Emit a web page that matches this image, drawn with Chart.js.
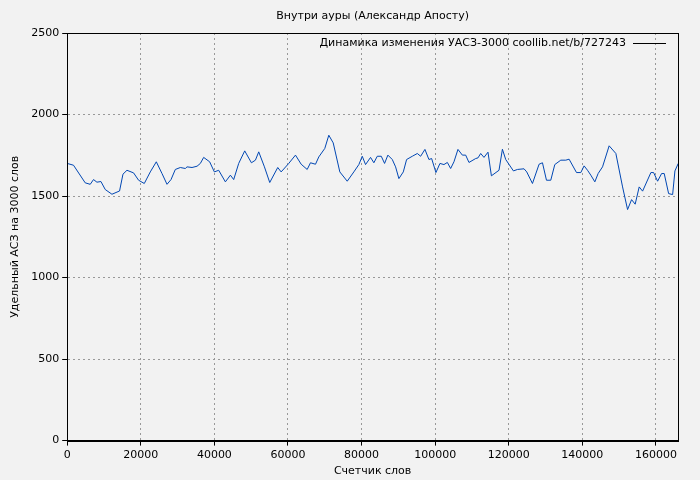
<!DOCTYPE html>
<html><head><meta charset="utf-8">
<script src="https://cdn.jsdelivr.net/npm/chart.js@4/dist/chart.umd.min.js"></script>
<style>html,body{margin:0;background:#f2f2f2}</style>
</head><body><canvas id="c" width="700" height="480"></canvas>
<script>
let words = [0,1714,4898,6258,7156,8081,9170,10340,12163,14231,15156,16244,18040,19401,20952,22584,24217,25768,27128,28217,29387,30747,32108,32570,33931,35291,36189,37087,38720,39999,41169,42992,44352,45250,46611,48243,50066,51155,52053,53604,55046,57223,58148,60216,62039,63590,65222,66120,67481,68379,70011,71100,72297,74093,76106,77902,79263,80188,81086,82446,83344,84269,85358,86256,87154,88351,89249,90147,91344,92242,93793,95153,96051,97221,98310,99044,100214,101303,102391,103316,104214,105112,106200,107398,108296,109194,111017,111643,112377,113275,114363,115289,117357,118282,119180,121275,122363,124159,124894,126445,128241,129166,130254,131424,132513,134145,135506,136404,138418,139588,140486,141411,142309,143397,144295,145493,147289,149112,150935,152295,153384,154363,155452,156377,158635,159369,160457,161546,162253,163451,164540,165166,166064]
let uasz = [1700,1689,1581,1572,1601,1585,1589,1540,1511,1531,1634,1658,1642,1597,1577,1648,1710,1638,1572,1601,1663,1675,1669,1679,1675,1683,1700,1737,1710,1648,1658,1587,1628,1601,1700,1777,1704,1720,1771,1679,1583,1675,1648,1700,1751,1695,1663,1704,1695,1740,1792,1873,1826,1648,1591,1648,1693,1744,1693,1737,1704,1744,1744,1700,1751,1724,1679,1607,1648,1724,1744,1761,1744,1786,1724,1730,1644,1700,1693,1706,1669,1710,1786,1751,1751,1706,1730,1734,1761,1737,1769,1624,1658,1787,1724,1654,1663,1667,1648,1577,1695,1704,1597,1597,1693,1720,1720,1726,1644,1644,1685,1658,1628,1587,1638,1679,1808,1761,1556,1417,1478,1450,1556,1530,1644,1644,1591,1638,1638,1515,1509,1654,1700]
let xTicks = [0,20000,40000,60000,80000,100000,120000,140000,160000]
let yTicks = [0,500,1000,1500,2000,2500]
let titleText = 'Внутри ауры (Александр Апосту)'
let legendText = 'Динамика изменения УАСЗ-3000 coollib.net/b/727243'

let pts = words.map((w,i) => ({x:w, y:uasz[i]}))
let font = {family:'DejaVu Sans', size:11, weight:'normal'}
let grid = {color:'#999', lineWidth:1, drawTicks:true, tickLength:5, tickColor:'#000'}

let framePlugin = {
  id:'frame',
  afterDraw(ch){
    let a = ch.chartArea, ctx = ch.ctx
    ctx.save()
    ctx.strokeStyle = '#000'; ctx.lineWidth = 1
    ctx.strokeRect(Math.round(a.left)+0.5, Math.round(a.top)+0.5, Math.round(a.right-a.left), Math.round(a.bottom-a.top))
    ctx.font = '11px "DejaVu Sans"'
    ctx.fillStyle = '#000'
    ctx.textBaseline = 'middle'
    ctx.textAlign = 'center'
    ctx.fillText(titleText, (a.left + a.right) / 2, 16)
    ctx.textAlign = 'right'
    ctx.fillText(legendText, a.right - 52, a.top + 10)
    ctx.beginPath(); ctx.moveTo(a.right - 45, a.top + 10.5); ctx.lineTo(a.right - 12, a.top + 10.5); ctx.stroke()
    ctx.restore()
  }
}
let bgPlugin = {
  id:'bg',
  beforeDraw(ch){
    let ctx = ch.ctx
    ctx.save(); ctx.fillStyle = '#f2f2f2'; ctx.fillRect(0,0,ch.width,ch.height); ctx.restore()
  }
}

new Chart(document.getElementById('c'), {
  type:'line',
  data:{datasets:[{data:pts, borderColor:'#0047b3', borderWidth:1, pointRadius:0, tension:0}]},
  options:{
    responsive:false, animation:false, devicePixelRatio:1,
    layout:{padding:{left:9,right:22,top:33,bottom:2}},
    plugins:{legend:{display:false}, tooltip:{enabled:false}, title:{display:false}},
    scales:{
      x:{type:'linear', min:0, max:166000,
        afterBuildTicks:s => { s.ticks = xTicks.map(v => ({value:v})) },
        ticks:{color:'#000', font:font, maxRotation:0, autoSkip:false, callback:v => String(v)},
        grid:grid, border:{color:'#000', dash:[2,3]},
        title:{display:true, text:'Счетчик слов', color:'#000', font:font, padding:0}},
      y:{min:0, max:2500,
        afterBuildTicks:s => { s.ticks = yTicks.map(v => ({value:v})) },
        ticks:{color:'#000', font:font, autoSkip:false, callback:v => String(v)},
        grid:grid, border:{color:'#000', dash:[2,3]},
        title:{display:true, text:'Удельный АСЗ на 3000 слов', color:'#000', font:font, padding:{top:0,bottom:6}}}
    }
  },
  plugins:[bgPlugin, framePlugin]
})
</script>
</body></html>
